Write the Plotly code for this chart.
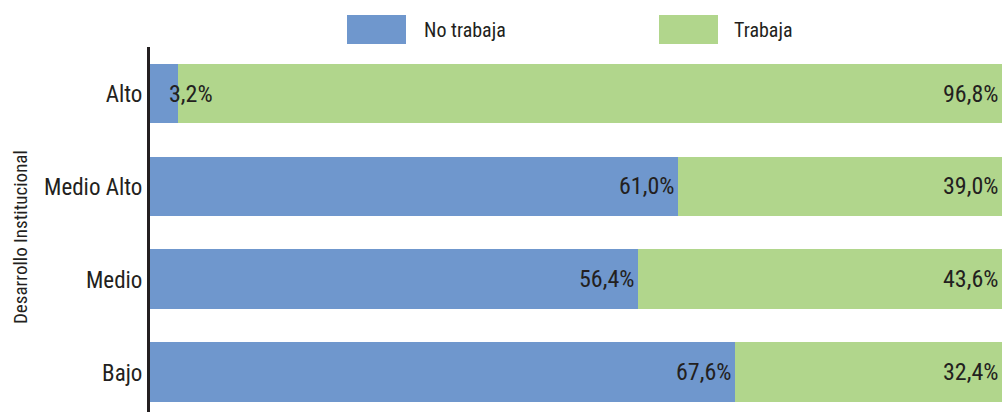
import plotly.graph_objects as go

categories = ["Alto", "Medio Alto", "Medio", "Bajo"]
no_trabaja = [3.2, 61.0, 56.4, 67.6]
trabaja = [96.8, 39.0, 43.6, 32.4]
series_names = ["No trabaja", "Trabaja"]
y_title = "Desarrollo Institucional"

BLUE = "#6F97CD"
GREEN = "#B1D68C"
TEXT = "#231F20"
FONT = "Liberation Sans Narrow, Roboto Condensed, DejaVu Sans Condensed, Arial Narrow, sans-serif"

order = categories[::-1]  # bottom to top

fig = go.Figure()
fig.add_trace(go.Bar(y=categories, x=no_trabaja, orientation="h", name=series_names[0],
                     marker=dict(color=BLUE, line=dict(width=0)), hoverinfo="x+y"))
fig.add_trace(go.Bar(y=categories, x=trabaja, orientation="h", name=series_names[1],
                     marker=dict(color=GREEN, line=dict(width=0)), hoverinfo="x+y"))

def fmt(v):
    return f"{v:.1f}".replace(".", ",") + "%"

annotations = []
for c, a, b in zip(categories, no_trabaja, trabaja):
    if a >= 10:
        annotations.append(dict(x=a, y=c, xref="x", yref="y", text=fmt(a), showarrow=False,
                                xanchor="right", xshift=-2, font=dict(size=24, color=TEXT, family=FONT)))
    else:
        annotations.append(dict(x=a / 2, y=c, xref="x", yref="y", text=fmt(a), showarrow=False,
                                xanchor="left", xshift=3, font=dict(size=24, color=TEXT, family=FONT)))
    annotations.append(dict(x=1, y=c, xref="paper", yref="y", text=fmt(b), showarrow=False,
                            xanchor="right", xshift=-2, font=dict(size=24, color=TEXT, family=FONT)))

# manual legend
shapes = []
legend_items = [(series_names[0], BLUE, 347, 422), (series_names[1], GREEN, 659, 732)]
W, H = 1002, 412
for name, col, x0, tx in legend_items:
    shapes.append(dict(type="rect", xref="paper", yref="paper",
                       x0=(x0 - 150) / 852, x1=(x0 + 59 - 150) / 852,
                       y0=(H - 44) / 365, y1=(H - 15) / 365,
                       fillcolor=col, line=dict(width=0)))
    annotations.append(dict(x=(tx - 150) / 852, y=(H - 30) / 365, xref="paper", yref="paper",
                            text=name, showarrow=False, xanchor="left", yanchor="middle",
                            font=dict(size=20, color=TEXT, family=FONT)))

annotations.append(dict(x=-(150 - 20) / 852, y=(H - 237) / 365, xref="paper", yref="paper",
                        text=y_title, textangle=-90, showarrow=False,
                        xanchor="center", yanchor="middle",
                        font=dict(size=19, color=TEXT, family=FONT)))

fig.update_layout(
    barmode="stack",
    bargap=0.355,
    width=W, height=H,
    margin=dict(l=150, r=0, t=47, b=0, pad=0),
    paper_bgcolor="white", plot_bgcolor="white",
    showlegend=False,
    annotations=annotations,
    shapes=shapes,
    xaxis=dict(range=[0, 98.44], visible=False, fixedrange=True),
    yaxis=dict(categoryorder="array", categoryarray=order, range=[-0.425, 3.5],
               showline=True, linewidth=3, linecolor=TEXT, showgrid=False, zeroline=False,
               ticks="", tickfont=dict(size=23, color=TEXT, family=FONT), fixedrange=True),
    font=dict(family=FONT, color=TEXT),
)

fig.write_html("out.html", config={"displayModeBar": False},
               post_script="document.body.style.margin='0';document.body.style.overflow='hidden';")
